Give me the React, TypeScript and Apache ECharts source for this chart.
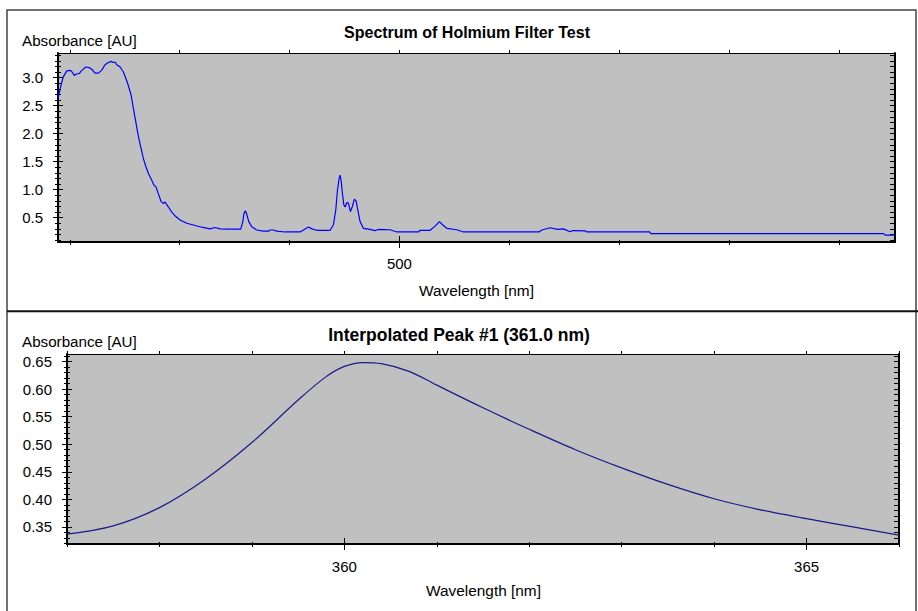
import React, { useEffect, useRef } from "react";
import * as echarts from "echarts";

// ---------- Top chart: Spectrum of Holmium Filter Test ----------
const topWavelength = [
  189.5, 192, 194, 197.3, 200.3, 201.8, 204.2, 206.4, 208.5, 211, 214.6, 217.6, 220, 223, 226, 229,
  232.1, 235.1, 237.6, 239.7, 241.2, 242.8, 245.8, 248.8, 251.2, 253.3, 255.8, 257.9, 260.1, 262.6,
  265, 267.1, 269.3, 271.6, 274.6, 276.7, 278.5, 280.6, 283.1, 285.2, 286.7, 289.8, 292.8, 296.5,
  300.4, 306.5, 312.5, 320.1, 327.7, 332.2, 336.8, 344.3, 355.6, 357.5, 358.6, 359.8, 361.1, 362.9,
  365.6, 370.2, 376.2, 380.8, 382.3, 385.3, 388.4, 396, 409.6, 414.2, 417.2, 420.3, 424.8, 436.9,
  439.9, 442.1, 443.6, 445.1, 446, 446.9, 448.1, 449.4, 450.6, 452.1, 453.6, 455.4, 457.2, 459,
  460.6, 462.1, 464.2, 467.2, 473.3, 477.9, 480.9, 491.5, 497.6, 517.3, 518.8, 527.9, 532.5, 536.4,
  539.5, 543.1, 552.2, 558.3, 627, 629.6, 637.2, 643.8, 649.3, 655.4, 657.8, 669, 670.5, 727.6,
  728.8, 940.6, 942.1, 951,
];
const topAbsorbance = [
  2.64, 2.86, 3.01, 3.12, 3.13, 3.11, 3.04, 3.07, 3.07, 3.13, 3.19, 3.18, 3.15, 3.08, 3.08, 3.13,
  3.23, 3.27, 3.29, 3.27, 3.28, 3.23, 3.19, 3.1, 2.98, 2.86, 2.69, 2.45, 2.21, 1.94,
  1.73, 1.55, 1.41, 1.29, 1.17, 1.08, 1.05, 0.93, 0.79, 0.75, 0.78, 0.69, 0.6, 0.52,
  0.46, 0.4, 0.37, 0.33, 0.3, 0.325, 0.3, 0.295, 0.295, 0.43, 0.58, 0.625, 0.56, 0.43,
  0.34, 0.28, 0.26, 0.26, 0.28, 0.28, 0.26, 0.245, 0.245, 0.3, 0.335, 0.3, 0.275, 0.275,
  0.37, 0.64, 0.99, 1.2, 1.26, 1.17, 0.94, 0.73, 0.69, 0.77, 0.76, 0.61, 0.7, 0.83,
  0.8, 0.64, 0.43, 0.31, 0.29, 0.27, 0.29, 0.285, 0.245, 0.245, 0.275, 0.275, 0.35, 0.43,
  0.37, 0.31, 0.285, 0.245, 0.245, 0.28, 0.32, 0.29, 0.3, 0.25, 0.27, 0.265, 0.245, 0.245,
  0.215, 0.215, 0.19, 0.19,
];
const topXTicks = [200, 300, 400, 500, 600, 700, 800, 900];
const topXMajor = [500];
const topXLabels = [500];
const topYLabels = [0.5, 1.0, 1.5, 2.0, 2.5, 3.0];
const topYMinorStep = 0.1;

// ---------- Bottom chart: Interpolated Peak #1 ----------
const peakWavelength = [
  357.0, 357.5, 358.0, 358.5, 359.0, 359.5, 359.8, 360.0, 360.2, 360.4, 360.7, 361.0, 361.5,
  362.0, 362.5, 363.0, 363.5, 364.0, 364.5, 365.0, 365.5, 366.0,
];
const peakAbsorbance = [
  0.337, 0.352, 0.385, 0.437, 0.503, 0.58, 0.622, 0.641, 0.648, 0.646, 0.632, 0.607, 0.566,
  0.527, 0.49, 0.457, 0.427, 0.401, 0.381, 0.365, 0.35, 0.335,
];
const botXTicks = [357, 358, 359, 360, 361, 362, 363, 364, 365, 366];
const botXMajor = [360, 365];
const botXLabels = [360, 365];
const botYLabels = [0.35, 0.4, 0.45, 0.5, 0.55, 0.6, 0.65];
const botYMinorStep = 0.01;

const TOP_X = [189.3, 951];
const TOP_Y = [0.066, 3.44];
const BOT_X = [357.0, 366.0];
const BOT_Y = [0.319, 0.6635];

const FONT = "Liberation Sans, Arial, sans-serif";

function steps(min: number, max: number, step: number): number[] {
  const out: number[] = [];
  const start = Math.ceil(min / step - 1e-9);
  const end = Math.floor(max / step + 1e-9);
  for (let i = start; i <= end; i++) out.push(Math.round(i * step * 1e6) / 1e6);
  return out;
}

const labelStyle = { color: "#000", fontFamily: FONT, fontSize: 15 };

function baseAxis(grid: number, range: number[]) {
  return {
    type: "value" as const,
    gridIndex: grid,
    min: range[0],
    max: range[1],
    splitLine: { show: false },
    axisPointer: { show: false },
  };
}

function xAxes(grid: number, range: number[], ticks: number[], majors: number[], labels: number[], labelMargin: number, fmt: (v: number) => string) {
  return [
    {
      ...baseAxis(grid, range),
      position: "bottom",
      axisLine: { show: true, onZero: false, lineStyle: { color: "#000", width: 2 } },
      axisTick: { show: false },
      axisLabel: { show: true, customValues: labels, margin: labelMargin, formatter: fmt, ...labelStyle },
    },
    {
      ...baseAxis(grid, range),
      position: "bottom",
      offset: -6,
      axisLine: { show: false, onZero: false },
      axisTick: { show: true, length: 12, customValues: majors, lineStyle: { color: "#000", width: 1 } },
      axisLabel: { show: false },
    },
    {
      ...baseAxis(grid, range),
      position: "bottom",
      offset: -2,
      axisLine: { show: false, onZero: false },
      axisTick: { show: true, length: 5, customValues: ticks, lineStyle: { color: "#000", width: 1 } },
      axisLabel: { show: false },
    },
    {
      ...baseAxis(grid, range),
      position: "top",
      axisLine: { show: true, onZero: false, lineStyle: { color: "#000", width: 1 } },
      axisTick: { show: true, length: 3, customValues: ticks, lineStyle: { color: "#000", width: 1 } },
      axisLabel: { show: false },
    },
  ];
}

function yAxes(grid: number, range: number[], labels: number[], minors: number[], fmt: (v: number) => string) {
  return [
    {
      ...baseAxis(grid, range),
      position: "left",
      axisLine: { show: true, onZero: false, lineStyle: { color: "#000", width: 2 } },
      axisTick: { show: false },
      axisLabel: { show: true, customValues: labels, margin: 15, formatter: fmt, ...labelStyle },
    },
    {
      ...baseAxis(grid, range),
      position: "left",
      offset: -5,
      axisLine: { show: false, onZero: false },
      axisTick: { show: true, length: 10, customValues: labels, lineStyle: { color: "#000", width: 1 } },
      axisLabel: { show: false },
    },
    {
      ...baseAxis(grid, range),
      position: "left",
      offset: -3,
      axisLine: { show: false, onZero: false },
      axisTick: { show: true, length: 6, customValues: minors, lineStyle: { color: "#000", width: 1 } },
      axisLabel: { show: false },
    },
    {
      ...baseAxis(grid, range),
      position: "right",
      axisLine: { show: true, onZero: false, lineStyle: { color: "#000", width: 2 } },
      axisTick: { show: true, inside: true, length: 5, customValues: minors, lineStyle: { color: "#000", width: 1 } },
      axisLabel: { show: false },
    },
  ];
}

export default function App() {
  const ref = useRef<HTMLDivElement>(null);
  useEffect(() => {
    if (!ref.current) return;
    const chart = echarts.init(ref.current, null, { renderer: "svg" });
    const topSeries = topWavelength.map((w, i) => [w, topAbsorbance[i]]);
    const botSeries = peakWavelength.map((w, i) => [w, peakAbsorbance[i]]);
    const option = {
      animation: false,
      backgroundColor: "#ffffff",
      grid: [
        { left: 58, top: 53, right: 23, bottom: 369, show: true, backgroundColor: "#c0c0c0", borderWidth: 0 },
        { left: 67, top: 354, right: 19, bottom: 67, show: true, backgroundColor: "#c0c0c0", borderWidth: 0 },
      ],
      xAxis: [
        ...xAxes(0, TOP_X, topXTicks, topXMajor, topXLabels, 14, (v: number) => String(Math.round(v))),
        ...xAxes(1, BOT_X, botXTicks, botXMajor, botXLabels, 15, (v: number) => String(Math.round(v))),
      ],
      yAxis: [
        ...yAxes(0, TOP_Y, topYLabels, steps(TOP_Y[0], TOP_Y[1], topYMinorStep), (v: number) => v.toFixed(1)),
        ...yAxes(1, BOT_Y, botYLabels, steps(BOT_Y[0], BOT_Y[1], botYMinorStep), (v: number) => v.toFixed(2)),
      ],
      series: [
        {
          type: "line",
          xAxisIndex: 0,
          yAxisIndex: 0,
          data: topSeries,
          showSymbol: false,
          symbol: "none",
          lineStyle: { color: "#0000ff", width: 1.2 },
          z: 5,
        },
        {
          type: "line",
          xAxisIndex: 4,
          yAxisIndex: 4,
          data: botSeries,
          smooth: 0.35,
          showSymbol: false,
          symbol: "none",
          lineStyle: { color: "#1a1a8a", width: 1.2 },
          z: 5,
        },
      ],
      graphic: [
        {
          type: "rect",
          shape: { x: 7, y: 10, width: 909, height: 620 },
          style: { fill: "none", stroke: "#444", lineWidth: 1.5 },
          silent: true,
        },
        {
          type: "line",
          shape: { x1: 7, y1: 311.3, x2: 918, y2: 311.3 },
          style: { stroke: "#111", lineWidth: 2 },
          silent: true,
        },
        {
          type: "text",
          x: 467,
          y: 32.5,
          style: { text: "Spectrum of Holmium Filter Test", fill: "#000", font: `bold 16px ${FONT}`, textAlign: "center", textVerticalAlign: "middle" },
        },
        {
          type: "text",
          x: 459,
          y: 334.5,
          style: { text: "Interpolated Peak #1 (361.0 nm)", fill: "#000", font: `bold 17.5px ${FONT}`, textAlign: "center", textVerticalAlign: "middle" },
        },
        {
          type: "text",
          x: 22,
          y: 40.5,
          style: { text: "Absorbance [AU]", fill: "#000", font: `15.2px ${FONT}`, textAlign: "left", textVerticalAlign: "middle" },
        },
        {
          type: "text",
          x: 22,
          y: 341.5,
          style: { text: "Absorbance [AU]", fill: "#000", font: `15.2px ${FONT}`, textAlign: "left", textVerticalAlign: "middle" },
        },
        {
          type: "text",
          x: 476.5,
          y: 290,
          style: { text: "Wavelength [nm]", fill: "#000", font: `15.4px ${FONT}`, textAlign: "center", textVerticalAlign: "middle" },
        },
        {
          type: "text",
          x: 483.5,
          y: 590.5,
          style: { text: "Wavelength [nm]", fill: "#000", font: `15.4px ${FONT}`, textAlign: "center", textVerticalAlign: "middle" },
        },
      ],
    };
    chart.setOption(option as any);
    return () => chart.dispose();
  }, []);
  return <div ref={ref} style={{ position: "fixed", left: 0, top: 0, width: 918, height: 611 }} />;
}
